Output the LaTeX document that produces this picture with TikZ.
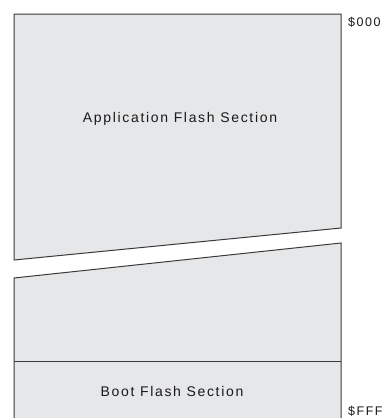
\documentclass[tikz,border=0pt]{standalone}
\usepackage{fontspec}
\setmainfont{Liberation Sans}
\newfontfamily\widesans[LetterSpace=12]{Liberation Sans}
\definecolor{memfill}{HTML}{E6E7E9}
\definecolor{memline}{HTML}{3A3A3A}
\begin{document}
\begin{tikzpicture}[x=1pt,y=-1pt,
  region/.style={fill=memfill,draw=memline,line width=1pt,line join=miter},
  lbl/.style={font=\widesans\fontsize{14}{16}\selectfont,text=black!90,inner sep=0pt},
  addr/.style={font=\widesans\fontsize{12.5}{14}\selectfont,text=black!90,inner sep=0pt,anchor=west}]
\useasboundingbox (0,0) rectangle (391,418);
\begin{scope}
\clip (0,0) rectangle (391,418);
\draw[region] (14,14) -- (341,14) -- (341,228) -- (14,260) -- cycle;
\fill[memfill] (14,278) -- (341,243) -- (341,420) -- (14,420) -- cycle;
\draw[memline,line width=1pt] (14,420) -- (14,278) -- (341,243) -- (341,420);
\draw[memline,line width=1pt] (14,361) -- (341,361);
\end{scope}
\node[lbl] (app) at (180,119) {Application Flash Section};
\node[lbl] (boot) at (172,391) {Boot Flash Section};
\node[addr] (a0) at (348,22.5) {\$000};
\node[addr] (af) at (348,411) {\$FFF};
\end{tikzpicture}
\end{document}
